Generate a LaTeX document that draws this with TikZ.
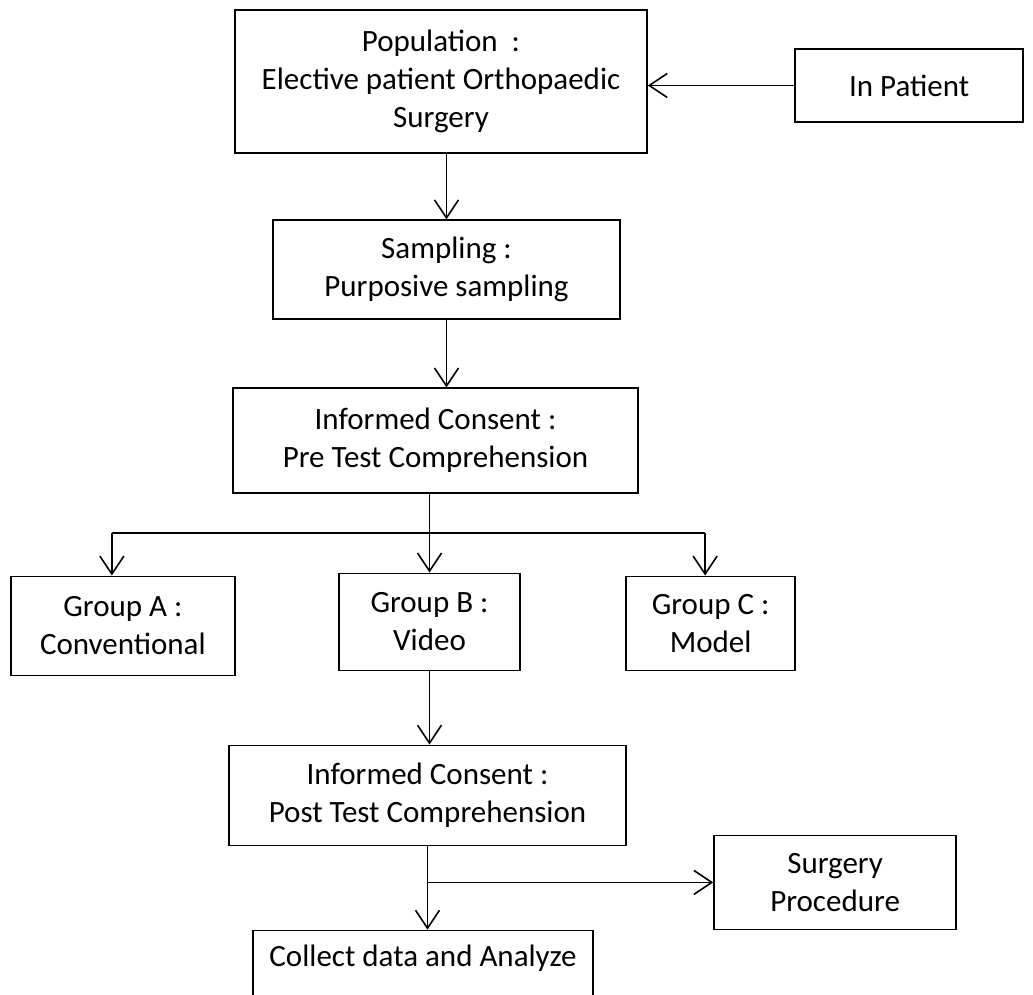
\documentclass[tikz,border=0pt]{standalone}
\usepackage{fontspec}
\setmainfont{Carlito}
\usetikzlibrary{arrows.meta, positioning, calc}
\tikzset{
  box/.style={draw, line width=1.6pt, align=center, inner sep=0pt, font=\fontsize{31}{38}\selectfont},
  arr/.style={-{Straight Barb[length=18pt, width=24pt]}, line width=1.6pt},
  link/.style={line width=1.6pt},
}

\begin{document}
\begin{tikzpicture}[x=1pt, y=-1pt]
    \useasboundingbox (0,0) rectangle (1033,995);
    \node[box, minimum width=412pt, minimum height=143pt] (pop) at (441,81.5)
      {Population \ :\\Elective patient Orthopaedic\\Surgery};
    \node[box, minimum width=228pt, minimum height=73pt, right=146.5pt of pop, yshift=-4pt] (inp) {In Patient};
    \node[box, minimum width=347pt, minimum height=99pt, below=65.5pt of pop, xshift=5.5pt] (samp)
      {Sampling :\\Purposive sampling};
    \node[box, minimum width=405pt, minimum height=105pt, below=67.5pt of samp, xshift=-11pt] (pre)
      {Informed Consent :\\Pre Test Comprehension};
    \node[box, minimum width=181pt, minimum height=97pt, below=78.5pt of pre, xshift=-6pt] (gb) {Group B :\\Video};
    \node[box, minimum width=224pt, minimum height=99pt, left=102.5pt of gb, yshift=-4pt] (ga) {Group A :\\Conventional};
    \node[box, minimum width=169pt, minimum height=94pt, right=104.5pt of gb, yshift=-1.5pt] (gc) {Group C :\\Model};
    \node[box, minimum width=397pt, minimum height=100pt, below=73.5pt of gb, xshift=-2pt] (post)
      {Informed Consent :\\Post Test Comprehension};
    \node[box, minimum width=340pt, minimum height=70pt, text depth=19pt, below=83.5pt of post, xshift=-4.5pt] (coll)
      {Collect data and Analyze};
    \node[box, minimum width=242pt, minimum height=94pt, right=86.5pt of post, yshift=-87pt] (surg) {Surgery\\Procedure};

    \draw[arr] (inp.west) -- (pop.east |- inp.west);
    \draw[arr] (samp.north |- pop.south) -- (samp.north);
    \draw[arr] (samp.south) -- (samp.south |- pre.north);
    % split to the three groups
    \coordinate (split) at ($(gb.north |- pre.south)!0.5!(gb.north)$);
    \draw[link] (gb.north |- pre.south) -- (split);
    \draw[link] ([xshift=-11pt]ga.north |- split) -- ([xshift=-5.5pt]gc.north |- split);
    \draw[arr] ([xshift=-11pt]ga.north |- split) -- ([xshift=-11pt]ga.north);
    \draw[arr] (split) -- (gb.north);
    \draw[arr] ([xshift=-5.5pt]gc.north |- split) -- ([xshift=-5.5pt]gc.north);
    \draw[arr] (gb.south) -- (gb.south |- post.north);
    \draw[arr] (post.south) -- (post.south |- coll.north);
    \draw[arr] (post.south |- surg.west) -- (surg.west);
\end{tikzpicture}
\end{document}
